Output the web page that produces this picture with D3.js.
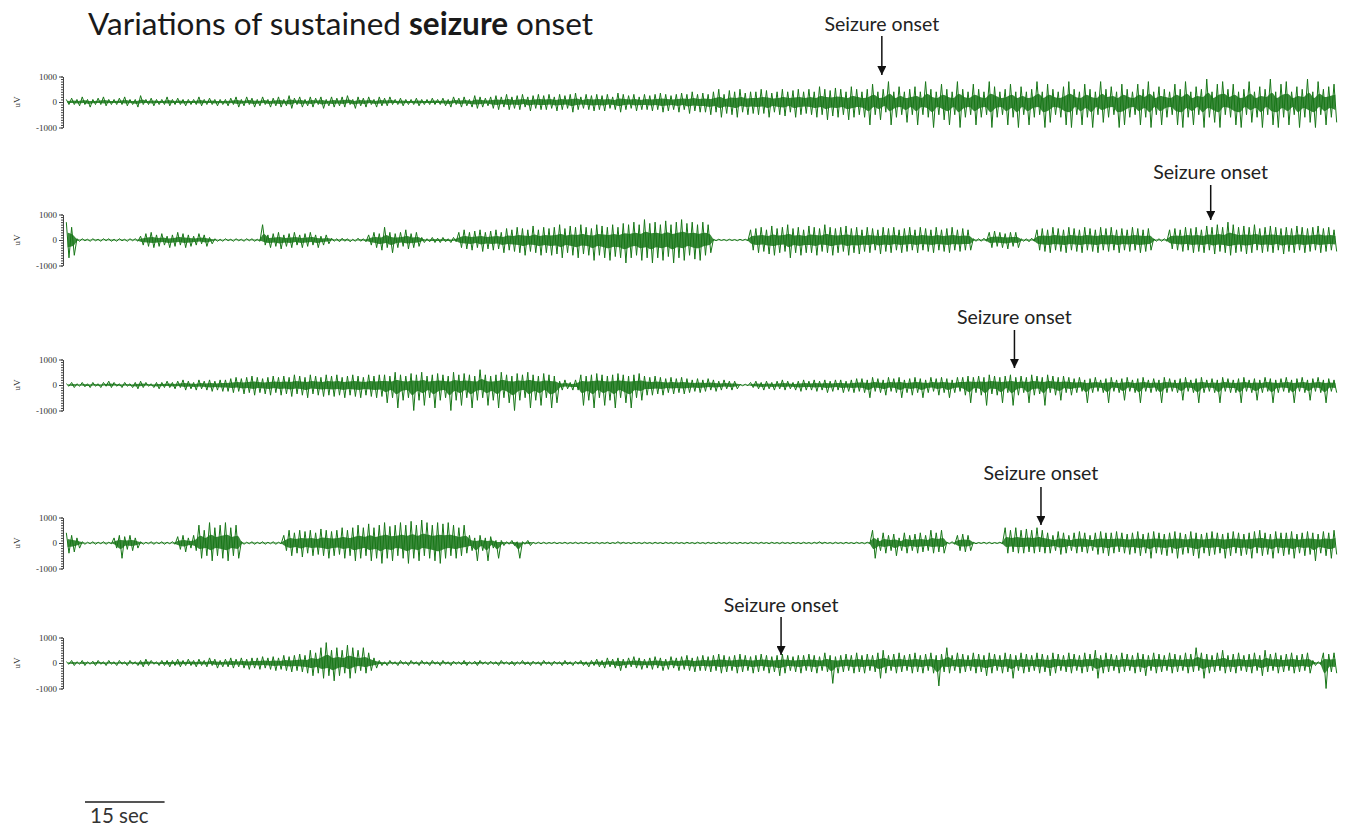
<!DOCTYPE html>
<html lang="en">
<head>
    <meta charset="UTF-8">
    <title>Variations of sustained seizure onset</title>
    <script src="https://d3js.org/d3.v7.min.js"></script>
    <style>
        body { margin: 0; background: #fff; }
        svg { display: block; }
    </style>
</head>
<body>
    <svg width="1350" height="830"></svg>

    <script>
        // Recording length (sec) and the onset time of each trace (sec)
        const duration = 240;
        const scaleBarSec = 15;
        const onsetSec = [154, 216, 179, 184, 135];
        const onsetLabel = "Seizure onset";
        const yTicks = [1000, 0, -1000];

        // Per-second peak / trough of each trace, in units of 100 uV
        const peak1 = [
            1,1.5,1,2,1,1,1.5,2,1,1, 1.5,2,1,1,2.5,1,1.5,1,1,2, 1,1.5,1,1,1,2,1,1.5,1,1,
            1,1.5,2,1,2,1.5,1,2,1,1.5, 2,1,2.5,1.5,2,1,2,1.5,2,1, 2,1.5,2,2.5,1,2,1.5,2,1,2,
            1.5,2,1,1.5,1,1,1.5,1,1,1.5, 1,1.5,1,2,1.5,2,1,2.5,2,1.5, 2,2.5,2,3,2,2.5,3,2,2.5,3,
            2.5,3,2,3,2.5,3,3.5,2,3,2.5, 3,2.5,3,2,3.5,3,2.5,3,2,3, 2.5,3,3.5,3,2.5,3,3.5,3,4,3,
            3.5,3,4,5,3,4.5,4,5,3.5,4, 4,5,4.5,3.5,4,5,4,4.5,5,4, 5,4,6,5,4.5,5.5,5,4,6,5,
            4,5,7,4,5,8,4,6,4,5, 6,4,8,5,4,7,5,4,8,5, 4,7,5,4,8,6,4,5,7,4,
            6,4,5,8,4,7,5,4,6,8, 5,4,7,5,4,8,5,6,4,7, 5,4,7,5,8,4,6,5,4,7,
            5,8,4,6,5,9,4,7,8,5, 7,4,5,8,4,6,5,9,4,7, 8,4,6,5,9,4,8,5,6,7
        ];
        const trough1 = [
            -1,-1,-1.5,-1,-2,-1,-1,-1.5,-1,-1, -1,-1.5,-1,-2,-1,-1,-1.5,-1,-1,-1.5, -1,-1,-1.5,-1,-1,-1.5,-1,-1,-1.5,-1,
            -1.5,-1,-2,-1.5,-1,-2,-1.5,-1,-2,-1.5, -2,-1.5,-2.5,-1,-2,-1.5,-2,-1,-2.5,-1.5, -2,-1.5,-2,-1,-2.5,-1.5,-2,-1,-2,-1.5,
            -1.5,-1,-1,-1.5,-1,-1,-1.5,-1,-1,-1, -1,-1.5,-2,-1,-2,-1.5,-2,-2.5,-2,-1.5, -2.5,-3,-2,-3,-2.5,-3,-2,-3.5,-2.5,-3,
            -3,-2.5,-3.5,-3,-2.5,-4,-3,-2.5,-3,-3.5, -3,-3.5,-2.5,-3,-4,-3,-2.5,-3.5,-3,-3, -3.5,-3,-4,-3.5,-3,-4,-3,-4.5,-3.5,-4,
            -4,-5,-4,-6,-4.5,-5,-6,-4,-5,-4.5, -5,-4.5,-6,-4,-5,-5.5,-4,-6,-5,-4.5, -5,-6,-5,-7,-5.5,-6,-5,-7,-6,-5,
            -6,-9,-5,-7,-4,-9,-6,-5,-8,-5, -9,-5,-6,-10,-5,-7,-9,-5,-10,-6, -5,-9,-6,-5,-10,-6,-5,-9,-6,-10,
            -5,-9,-6,-5,-10,-8,-5,-6,-9,-10, -5,-9,-6,-10,-5,-8,-6,-5,-10,-9, -6,-5,-9,-6,-10,-5,-9,-6,-5,-9,
            -10,-6,-9,-5,-10,-6,-8,-10,-5,-6, -9,-10,-5,-8,-6,-10,-5,-9,-10,-6, -9,-5,-10,-6,-8,-10,-5,-9,-6,-8
        ];
        const peak2 = [
            7,5,0.5,0.5,0.3,0.5,0.3,0.5,0.5,0.3, 0.5,0.3,0.5,0.5,1.5,2.5,3,2,2.5,1.5, 2,3,2.5,2,1.5,2.5,2,1,0.5,0.3,
            0.5,0.3,0.5,0.3,0.5,0.5,0.3,6,2,2.5, 3,2,2.5,3,2,2.5,3,2,1.5,2, 0.7,0.5,0.7,0.5,0.3,0.7,0.5,2,3,2.5,
            5,3,2.5,3,4,2.5,3,1,0.5,1, 0.7,1,0.5,1,3,4,3,3.5,4,3, 3.5,4,3,4.5,4,5,4.5,4,5.5,4,
            5,4.5,5,6,4.5,5.5,5,6,5,4.5, 6,5.5,5,6,5,6.5,6,7,6,8, 6.5,7,6,7.5,6,7,8,6.5,7,6,
            7,6,0.3,0.3,0.2,0.3,0.2,0.3,0.3,4, 4.5,5,4,5.5,4.5,5,6,4.5,5,4, 5.5,5,4.5,6,5,4.5,5,5.5,4.5,5,
            4,5,4.5,4,5,4.5,5,4,4.5,5, 4,5,4.5,4,5,4,4.5,5,4,4.5, 4,0.5,0.5,0.7,3,3.5,3,2.5,3,3,
            0.5,0.5,0.7,4,4.5,4,5,4.5,4,5, 4.5,4,5,4.5,4,5,4.5,5,4,4.5, 4,5,4.5,4,4.5,0.5,0.5,0.5,4,4.5,
            4,5,4.5,5,4,5.5,5,6,5,7, 6,5,5.5,5,6,4.5,5,5.5,5,4.5, 5,4.5,5.5,5,4.5,5,5.5,4.5,5,4
        ];
        const trough2 = [
            -7,-6,-0.5,-0.3,-0.5,-0.3,-0.5,-0.3,-0.5,-0.5, -0.3,-0.5,-0.3,-0.5,-2,-2.5,-3,-2.5,-2,-3, -2.5,-2,-3,-2.5,-2,-1.5,-2.5,-1.5,-0.5,-0.5,
            -0.3,-0.5,-0.3,-0.5,-0.3,-0.5,-0.5,-2,-3,-2.5, -3.5,-2.5,-3,-2,-3,-2.5,-2,-3,-2,-1.5, -0.5,-0.7,-0.5,-0.7,-0.5,-0.5,-0.7,-2,-3,-4,
            -3,-5,-3,-2.5,-3.5,-3,-2.5,-1,-0.7,-1, -1,-0.7,-1,-0.7,-3,-3.5,-4,-3,-4.5,-3.5, -4,-3.5,-5,-4,-4.5,-5,-6,-4.5,-5,-6,
            -5,-6,-5.5,-7,-5,-6,-7,-5.5,-6,-8, -6,-7,-8,-6.5,-7,-9,-7,-6,-8,-7, -9,-7,-8,-6.5,-9,-7,-8,-6,-7.5,-8,
            -6,-5,-0.3,-0.2,-0.3,-0.2,-0.3,-0.2,-0.3,-4, -5,-4.5,-5.5,-6,-5,-4.5,-7,-5,-6,-5, -5,-6,-4.5,-5,-6,-5,-4.5,-6,-5,-5.5,
            -4.5,-5,-4,-5.5,-4.5,-5,-4,-5,-4.5,-4, -5,-4,-4.5,-5,-4,-4.5,-5,-4,-4.5,-4, -4,-0.5,-0.5,-0.5,-3,-2.5,-3,-3.5,-2.5,-3,
            -0.5,-0.7,-0.5,-4,-4.5,-5,-4,-4.5,-5,-4, -4.5,-5,-4,-4.5,-5,-4,-4.5,-4,-5,-4, -4.5,-4,-5,-4.5,-4,-0.5,-0.5,-0.5,-3.5,-4,
            -4.5,-4,-5,-4.5,-5,-4,-5.5,-4.5,-5,-6, -5,-4.5,-5.5,-5,-4,-5,-4.5,-5,-4,-5.5, -4.5,-5,-4,-5,-4.5,-4,-5,-4.5,-4,-4.5
        ];
        const peak3 = [
            0.5,1,0.5,1,0.5,1,0.5,1,1.5,1, 0.5,1,0.5,1,1.5,1,0.5,1,1,1.5, 1,1.5,2,1.5,1,2,1.5,2,1.5,2,
            2,2.5,3,2.5,3,3.5,3,2.5,3,3.5, 3,3.5,3,4,3.5,3,4,3.5,3,4, 3.5,4,3,3.5,4,3.5,3,4,3.5,4,
            4,3.5,5,4,3.5,4.5,4,5,3.5,4, 4.5,4,3.5,5,4,4.5,4,3.5,6,4, 3.5,4,5,4,3.5,4.5,4,5,4,3.5,
            4.5,4,3.5,1.5,2,1,2,4,3.5,4, 4.5,4,3.5,4,4.5,4,3.5,4,4.5,3.5, 3,3.5,3,2.5,3,2.5,3,2.5,2,2.5,
            2,2.5,2,1.5,2,1.5,1.5,0.3,0.3,1, 1.5,1,1.5,1,1.5,2,1.5,1,1.5,2, 1.5,2,1.5,2,1.5,2,2,1.5,2,2.5,
            2.5,2,3,2.5,2,3,2.5,3,2,2.5, 3,2.5,2,3,2.5,3,2.5,2,3,3, 3.5,3,3.5,3,4,3.5,3,3.5,4,3,
            3.5,3,4,3.5,3,4,3.5,3,3.5,3, 2.5,3,2,2.5,3,2,2.5,3,2,2.5, 3,2,2.5,3,2,2.5,2,3,2.5,2,
            2.5,3,2,2.5,3,2,2.5,2,3,2.5, 2,2.5,3,2,2.5,2,3,2.5,2,2.5, 3,2,2.5,3,2,2.5,3,2,2.5,2
        ];
        const trough3 = [
            -0.5,-1,-0.5,-0.7,-1,-0.5,-1,-0.5,-1,-0.5, -1,-0.5,-1,-1.5,-1,-0.5,-1,-1.5,-1,-1, -1.5,-1,-2,-1.5,-2,-1.5,-2,-2.5,-2,-2.5,
            -2.5,-3,-2.5,-3.5,-3,-4,-3,-3.5,-4,-3, -4,-3.5,-4.5,-3.5,-4,-5,-3.5,-4,-4.5,-4, -4.5,-4,-5,-4,-4.5,-5,-4,-4.5,-5,-4.5,
            -7,-5,-9,-6,-5,-10,-6,-8,-5,-9, -6,-5,-10,-6,-8,-5,-9,-6,-5,-8, -6,-9,-5,-7,-10,-6,-5,-9,-6,-8,
            -5,-9,-7,-2,-1.5,-2,-2,-8,-6,-9, -5,-8,-6,-9,-5,-7,-9,-5,-6,-4, -4,-3.5,-4,-3,-3.5,-3,-3.5,-3,-2.5,-3,
            -2.5,-2,-2.5,-2,-1.5,-2,-1.5,-0.3,-0.3,-1, -1.5,-2,-1.5,-2,-1.5,-2,-1.5,-2,-2.5,-2, -2,-2.5,-2,-3,-2.5,-2,-3,-2.5,-3,-2.5,
            -3,-5,-2.5,-3,-4,-2.5,-3,-5,-3,-4, -3,-5,-3,-2.5,-4,-3,-5,-3,-2.5,-4, -7,-3,-4,-8,-3.5,-4,-7,-3,-8,-4,
            -3,-7,-4,-3.5,-8,-3,-4,-6,-3,-4, -3,-2.5,-7,-3,-2.5,-3,-7,-2.5,-3,-6, -2.5,-3,-7,-2.5,-3,-2.5,-7,-3,-2.5,-3,
            -6,-2.5,-3,-7,-3,-2.5,-3,-7,-2.5,-3, -3,-7,-2.5,-3,-6,-3,-2.5,-7,-3,-2.5, -3,-7,-2.5,-3,-6,-2.5,-3,-7,-2.5,-3
        ];
        const peak4 = [
            4,3,2,0.5,0.3,0.5,0.3,0.5,0.3,2, 3,2.5,3,2,0.5,0.3,0.5,0.3,0.5,0.3, 0.5,2.5,3,2,3,7,5,8,6,7,
            8,6,7,0.5,0.3,0.5,0.3,0.5,0.3,0.5, 0.3,3,5,4,5,4.5,5,4,5.5,5, 4.5,5,6,5,6,7,6,7.5,6,7,
            8,6.5,7,8,7,8.5,7,9,8,7, 8,7.5,8,7,6,7,3,2,3,2, 2.5,1,1,0.5,1,0.5,0.5,1,0.3,0.3,
            0.3,0.2,0.3,0.2,0.3,0.2,0.3,0.2,0.3,0.2, 0.3,0.2,0.3,0.2,0.5,0.3,0.2,0.3,0.2,0.3, 0.2,0.3,0.2,0.3,0.2,0.3,0.2,0.3,0.2,0.3,
            0.2,0.3,0.2,0.3,0.2,0.3,0.2,0.3,0.2,0.3, 0.2,0.3,0.2,0.3,0.2,0.3,0.2,0.3,0.2,0.3, 0.2,0.3,0.5,0.3,0.2,0.3,0.2,0.3,0.2,0.3,
            0.2,0.3,5,2,4,3,3.5,2,4,3, 3.5,4,3,5,4,5,0.3,0.5,3,3.5, 3,0.3,0.2,0.3,0.3,0.2,0.3,6,5,6,
            5,5.5,5,6,5,4,3,4.5,4,3, 4,4.5,4,3,4,4.5,4,4,4.5,4, 3.5,4,4.5,3.5,4,4.5,4,3.5,4,4.5,
            4,3.5,4.5,4,3.5,4,4.5,4,3.5,4, 4.5,4,3.5,4,4.5,5,4,3.5,4.5,4, 4,4.5,3.5,4,4.5,4,3.5,4.5,4,5
        ];
        const trough4 = [
            -4,-3.5,-2,-0.5,-0.3,-0.5,-0.3,-0.5,-0.3,-2, -6,-2.5,-3,-2,-0.5,-0.3,-0.5,-0.3,-0.5,-0.3, -0.5,-2.5,-3.5,-2,-3,-6,-5,-7,-5,-6,
            -7,-5,-6,-0.5,-0.3,-0.5,-0.3,-0.5,-0.3,-0.5, -0.3,-3,-5,-4,-5.5,-4,-5,-4.5,-5,-6, -5,-4.5,-6,-5,-7,-6,-5,-7,-6,-8,
            -6,-7,-5,-6,-8,-6,-7,-5,-6,-7, -8,-6,-5,-6,-5,-4,-3,-7,-3,-7, -2,-6,-1,-0.5,-1,-6,-0.5,-1,-0.3,-0.3,
            -0.3,-0.2,-0.3,-0.2,-0.3,-0.2,-0.3,-0.2,-0.3,-0.2, -0.3,-0.2,-0.3,-0.2,-0.3,-0.2,-0.3,-0.2,-0.3,-0.2, -0.3,-0.2,-0.3,-0.2,-0.3,-0.2,-0.3,-0.2,-0.3,-0.2,
            -0.3,-0.2,-0.3,-0.2,-0.3,-0.2,-0.3,-0.2,-0.3,-0.2, -0.3,-0.2,-0.3,-0.2,-0.3,-0.2,-0.3,-0.2,-0.3,-0.2, -0.3,-0.2,-0.3,-0.2,-0.3,-0.2,-0.3,-0.2,-0.3,-0.2,
            -0.3,-0.2,-6,-3,-4,-3,-5,-3,-4,-3, -4,-3.5,-3,-4,-3.5,-4,-0.3,-0.5,-3,-3.5, -3,-0.3,-0.2,-0.3,-0.3,-0.2,-0.3,-4,-3.5,-4,
            -4,-3.5,-4,-3.5,-4,-4,-3,-4.5,-4,-3, -4,-3.5,-4,-3,-4.5,-4,-5,-4,-3.5,-4, -4.5,-4,-5,-4,-6,-4,-4.5,-5,-4,-6,
            -4.5,-4,-5,-6,-4,-5,-4.5,-4,-6,-5, -4,-5,-4.5,-6,-4,-5,-4.5,-6,-4,-5, -4.5,-6,-4,-5,-4.5,-7,-4,-5,-6,-4.5
        ];
        const peak5 = [
            0.5,1,0.5,1,0.5,0.7,1,0.5,1,0.5, 1,0.5,1,0.5,1,1.5,1,0.5,1,1, 1,1.5,1,1.5,1,1.5,1,2,1.5,1,
            1.5,2,1.5,2,1.5,2,2,2.5,2,2.5, 2,3,2.5,3,3.5,3,5,4,6,8, 5,6,5,7,6,5,6,4,2,1,
            0.5,1,0.5,1,0.5,1,0.5,1,0.5,1, 0.5,1,0.5,0.7,0.5,1,0.5,0.7,1,0.5, 0.7,0.5,1,0.5,0.7,0.5,1,0.5,0.7,0.5,
            1,0.5,0.7,0.5,1,0.5,0.7,1,0.5,1, 1.5,1,2,1.5,2,1.5,2,2.5,2,1.5, 2,2.5,2,1.5,2.5,2,2.5,3,2,2.5,
            3,2.5,3,3.5,3,2.5,3,3.5,3,2.5, 3,3.5,3,2.5,3,3.5,3,2.5,3,3, 3.5,3,2.5,4,3,2.5,3,3.5,3,4,
            3,3.5,3,4,5,3,3.5,4,3,3.5, 4,3,3.5,4,3,3.5,6,3,4,3.5, 3,4,3.5,3,4,3.5,3,4,3.5,3,
            4,3.5,3,4,3.5,3,4,3.5,3,4, 3.5,3,4,3.5,5,3,4,3.5,3,4, 3.5,3,4,3.5,3,4,3.5,3,4,3.5,
            3,4,3.5,6,4,3.5,3,4,5,3, 3.5,4,3,3.5,4,3,5,3.5,4,3, 3.5,4,3,3.5,4,1,0.5,4,3.5,4
        ];
        const trough5 = [
            -0.5,-1,-0.5,-1,-0.5,-1,-0.5,-1,-0.5,-1, -0.5,-1,-0.5,-1,-1.5,-1,-0.5,-1,-1,-1.5, -1,-1.5,-1,-1,-1.5,-1,-1.5,-1,-2,-1.5,
            -1.5,-2,-1.5,-2,-2.5,-2,-2.5,-2,-2.5,-3, -2.5,-3,-3.5,-3,-3.5,-4,-5,-4,-6,-5, -7,-5,-4,-6,-4,-3,-4,-3,-2,-1,
            -1,-0.5,-1,-0.5,-1,-0.5,-1,-0.5,-1,-0.5, -1,-0.5,-1,-0.5,-0.7,-1,-0.5,-1,-0.5,-0.7, -0.5,-1,-0.5,-0.7,-1,-0.5,-0.7,-1,-0.5,-1,
            -0.5,-1,-0.5,-1,-0.7,-1,-0.5,-1,-1.5,-1, -1.5,-2,-1.5,-2,-3,-2,-1.5,-2,-2.5,-2, -2.5,-2,-3,-2.5,-2,-3,-2.5,-3,-3.5,-3,
            -3,-3.5,-3,-4,-3.5,-3,-4,-3.5,-3,-4, -3.5,-3,-4,-3.5,-5,-4,-3,-3.5,-4,-3, -3.5,-4,-3,-3.5,-8,-4,-3.5,-3,-4,-3.5,
            -4,-3,-3.5,-6,-4,-3,-4,-3.5,-3,-4, -3.5,-4,-3,-4,-9,-3.5,-4,-3,-4,-3.5, -3,-4,-3.5,-5,-4,-3,-4,-3.5,-6,-3,
            -4,-3.5,-3,-4,-3.5,-5,-4,-3,-3.5,-4, -3,-4,-3.5,-3,-6,-4,-3.5,-3,-4,-3.5, -3,-4,-3.5,-5,-3,-4,-3.5,-3,-4,-3.5,
            -3,-4,-3.5,-3,-6,-4,-3.5,-3,-4,-3.5, -4,-3,-3.5,-4,-3,-5,-3.5,-3,-4,-3.5, -3,-4,-3.5,-3,-4,-1,-0.5,-10,-3.5,-4
        ];

        const peaks = [peak1, peak2, peak3, peak4, peak5];
        const troughs = [trough1, trough2, trough3, trough4, trough5];

        // Layout
        const svg = d3.select("svg");
        const left = 65, right = 1338;
        const baselines = [102, 240, 385, 543, 663];
        const labelDy = [-71, -61, -61, -63, -51];     // label baseline, relative to trace zero
        const arrowTop = [-66, -55, -55, -56, -46];
        const arrowEnd = [-27, -20, -17, -18, -8];
        const halfHeight = 25.5;
        const traceColor = "#177617";
        const coreShare = 0.4;   // dark core of the band, as a share of the per-second envelope
        const labelFont = "Lato, 'Open Sans', sans-serif";

        const x = d3.scaleLinear().domain([0, duration]).range([left, right]);
        const y = d3.scaleLinear().domain([-1000, 1000]).range([halfHeight, -halfHeight]);

        // Arrow marker
        svg.append("defs").append("marker")
            .attr("id", "arrow")
            .attr("viewBox", "0 0 10 10")
            .attr("refX", 10).attr("refY", 5)
            .attr("markerWidth", 9).attr("markerHeight", 9)
            .attr("markerUnits", "userSpaceOnUse")
            .attr("orient", "auto")
            .append("path")
            .attr("d", "M0,0 L10,5 L0,10 Z")
            .attr("fill", "#111");

        // Title
        const title = svg.append("text")
            .attr("x", 88).attr("y", 35)
            .attr("font-family", labelFont)
            .attr("font-size", 31.5)
            .attr("fill", "#1a1a1a");
        title.append("tspan").text("Variations of sustained ");
        title.append("tspan").attr("font-weight", "bold").text("seizure");
        title.append("tspan").text(" onset");

        const line = d3.line()
            .x(d => x(d[0]))
            .y(d => y(d[1]));

        const core = d3.area()
            .x(d => x(d.t))
            .y0(d => y(d.lo * coreShare))
            .y1(d => y(d.hi * coreShare))
            .curve(d3.curveMonotoneX);

        peaks.forEach((pk, k) => {
            const g = svg.append("g").attr("transform", `translate(0,${baselines[k]})`);

            // minor ticks every 100 uV
            g.append("g")
                .attr("transform", `translate(${left - 2},0)`)
                .call(d3.axisLeft(y).tickValues(d3.range(-1000, 1001, 100)).tickSize(2).tickFormat(""))
                .call(a => a.select(".domain").remove())
                .selectAll("line").attr("stroke", "#444");

            // main axis
            const ax = g.append("g")
                .attr("transform", `translate(${left - 2},0)`)
                .call(d3.axisLeft(y).tickValues(yTicks).tickSize(4).tickSizeOuter(0)
                    .tickPadding(2).tickFormat(d => String(d)));
            ax.select(".domain").attr("stroke", "#444");
            ax.selectAll(".tick line").attr("stroke", "#444");
            ax.selectAll(".tick text")
                .attr("font-family", "'Liberation Serif', serif")
                .attr("font-size", 9)
                .attr("fill", "#333");

            g.append("text")
                .attr("transform", "translate(20,0) rotate(-90)")
                .attr("text-anchor", "middle")
                .attr("font-family", "'Liberation Serif', serif")
                .attr("font-size", 9)
                .attr("fill", "#333")
                .text("uV");

            // dense core of the trace
            const bins = pk.map((v, i) => ({ t: i + 0.5, hi: v * 100, lo: troughs[k][i] * 100 }));
            g.append("path")
                .datum(bins)
                .attr("d", core)
                .attr("fill", traceColor)
                .attr("fill-opacity", 0.85);

            // trace: peak then trough inside every 1-sec bin
            const pts = [];
            pk.forEach((v, i) => {
                pts.push([i + 0.25, v * 100]);
                pts.push([i + 0.75, troughs[k][i] * 100]);
            });
            g.append("path")
                .datum(pts)
                .attr("d", line)
                .attr("fill", "none")
                .attr("stroke", traceColor)
                .attr("stroke-width", 1);

            // onset annotation
            const ox = x(onsetSec[k]);
            g.append("text")
                .attr("x", ox).attr("y", labelDy[k])
                .attr("text-anchor", "middle")
                .attr("font-family", labelFont)
                .attr("font-size", 19.5)
                .attr("fill", "#222")
                .text(onsetLabel);
            g.append("line")
                .attr("x1", ox).attr("x2", ox)
                .attr("y1", arrowTop[k]).attr("y2", arrowEnd[k])
                .attr("stroke", "#111")
                .attr("stroke-width", 1.5)
                .attr("marker-end", "url(#arrow)");
        });

        // 15 sec scale bar
        const barX = 85, barY = 802;
        svg.append("line")
            .attr("x1", barX).attr("x2", barX + x(scaleBarSec) - x(0))
            .attr("y1", barY).attr("y2", barY)
            .attr("stroke", "#555").attr("stroke-width", 2);
        svg.append("text")
            .attr("x", barX + 5).attr("y", barY + 21)
            .attr("font-family", labelFont)
            .attr("font-size", 20.5)
            .attr("fill", "#333")
            .text(`${scaleBarSec} sec`);
    </script>
</body>
</html>
